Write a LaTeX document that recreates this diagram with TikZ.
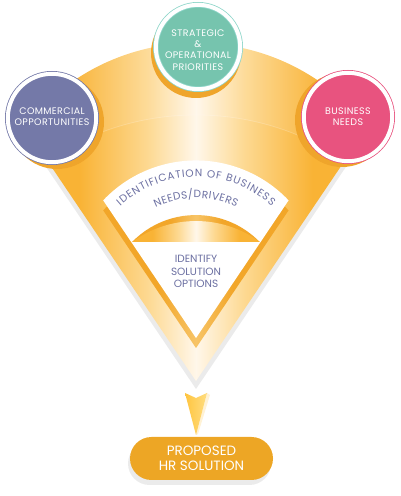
\documentclass[tikz,border=0pt]{standalone}
\usepackage{fontspec}
\newfontfamily\popf{Poppins}
\newfontfamily\popsp{Poppins}[LetterSpace=4]
\usetikzlibrary{calc,decorations.text}

\definecolor{fanor}{HTML}{F9B335}
\definecolor{fanmid}{HTML}{FDD992}
\definecolor{fanwhite}{HTML}{FFF7EA}
\definecolor{rimor}{HTML}{F2A629}
\definecolor{rimmid}{HTML}{F7C467}
\definecolor{fanshd}{HTML}{EBEBEB}
\definecolor{cshd}{HTML}{EFA52B}
\definecolor{commc}{HTML}{7479A8}
\definecolor{stratc}{HTML}{76C4AE}
\definecolor{stratl}{HTML}{8FD6CA}
\definecolor{bizc}{HTML}{E8537F}
\definecolor{txtblue}{HTML}{6C70A2}
\definecolor{propc}{HTML}{EDA625}
\definecolor{dartl}{HTML}{FFC540}
\definecolor{dartr}{HTML}{FFDD80}

\pgfdeclarehorizontalshading{fanshade}{100bp}{color(0bp)=(fanor); color(33bp)=(fanor);
  color(43bp)=(fanmid); color(50bp)=(fanwhite); color(57bp)=(fanmid); color(67bp)=(fanor); color(100bp)=(fanor)}
\pgfdeclarehorizontalshading{rimshade}{100bp}{color(0bp)=(rimor); color(40bp)=(rimor);
  color(50bp)=(rimmid); color(60bp)=(rimor); color(100bp)=(rimor)}

\begin{document}
\begin{tikzpicture}[x=1pt,y=1pt,
  bubble/.style={circle,inner sep=0pt,minimum size=88.4pt,fill=#1,draw=#1,
    double=white,double distance=4pt,line width=0.8pt},
  ctext/.style={align=center,text=white,inner sep=0pt,font=\popsp\fontsize{9.5}{11.2}\selectfont},
  itext/.style={align=center,text=txtblue,inner sep=0pt,font=\popf\fontsize{10.5}{12.5}\selectfont},
  arctext/.style={decorate,decoration={text along path,text align={fit to path},
    text color=txtblue,text={|\popf\fontsize{10.5}{12}\selectfont|#1}}}]
  \useasboundingbox (0,0) rectangle (400,496);

  % fan with its shadow
  \fill[fanshd,yshift=-8] (196,115) -- ($(196,236)+(142.2:217)$) arc[start angle=142.2,end angle=37.8,radius=217] -- cycle;
  \shade[shading=fanshade] (196,115) -- ($(196,236)+(142.2:217)$) arc[start angle=142.2,end angle=37.8,radius=217] -- cycle;
  \begin{scope}
    \clip (196,115) -- ($(196,236)+(142.2:217)$) arc[start angle=142.2,end angle=37.8,radius=217] -- cycle;
    \fill[white,opacity=.08,even odd rule] (0,0) rectangle (400,496) (196,115) circle[radius=266];
    \draw[white,opacity=.2,line width=0.8pt] (196,115) circle[radius=266];
  \end{scope}

  % inner rim, white field and lune
  \shade[shading=rimshade] (196,148) -- ++(124:166) arc[start angle=136.6,end angle=43.4,radius=127.6] -- cycle;
  \fill[white] (196,158) -- ++(124:166) arc[start angle=136.6,end angle=43.4,radius=127.6] -- cycle;
  \shade[shading=rimshade] (132.1,254) arc[start angle=135.8,end angle=44.2,radius=89] -- cycle;
  \shade[shading=fanshade] (132.1,254) arc[start angle=126.3,end angle=53.7,radius=108] -- cycle;

  % texts of the white field
  \path[arctext={IDENTIFICATION OF BUSINESS}] ($(196,206)+(132:113)$) arc[start angle=132,end angle=48,radius=113];
  \path[arctext={NEEDS/DRIVERS}] ($(196,206)+(116:92)$) arc[start angle=116,end angle=64,radius=92];
  \node[itext] (ident) at (196,224.5) {IDENTIFY\\SOLUTION\\OPTIONS};

  % circles
  \fill[cshd] (57,374) circle[radius=47];
  \fill[cshd] (196,443) circle[radius=45];
  \fill[cshd] (342,376) circle[radius=47];
  \node[bubble=commc] (comm) at (52,378) {};
  \node[bubble=stratc,draw=stratl,minimum size=84.4pt] (strat) at (198,449) {};
  \node[bubble=bizc] (bizn) at (348,379) {};
  \node[ctext] (commtxt) at ($(comm)+(0,1)$) {COMMERCIAL\\OPPORTUNITIES};
  \node[ctext] (strattxt) at ($(strat)+(0,-3)$) {STRATEGIC\\\&\\OPERATIONAL\\PRIORITIES};
  \node[ctext] (bizntxt) at ($(bizn)+(0,0)$) {BUSINESS\\NEEDS};

  % arrow and result
  \fill[fanwhite!80!dartr] (207,103) -- (210,101) -- (198,62) -- (196,61) -- cycle;
  \shade[left color=dartl,right color=dartr] (185,103) -- (196,98) -- (207,103) -- (196,61) -- cycle;
  \fill[fanshd,rounded corners=21.5pt] (128,11) rectangle (271,54);
  \node[fill=propc,rounded corners=21.5pt,minimum width=143pt,minimum height=43pt,inner sep=0pt,
    align=center,text=white,font=\popf\fontsize{13.5}{15.5}\selectfont] (prop) at (201.5,37.5) {PROPOSED\\HR SOLUTION};
\end{tikzpicture}
\end{document}
